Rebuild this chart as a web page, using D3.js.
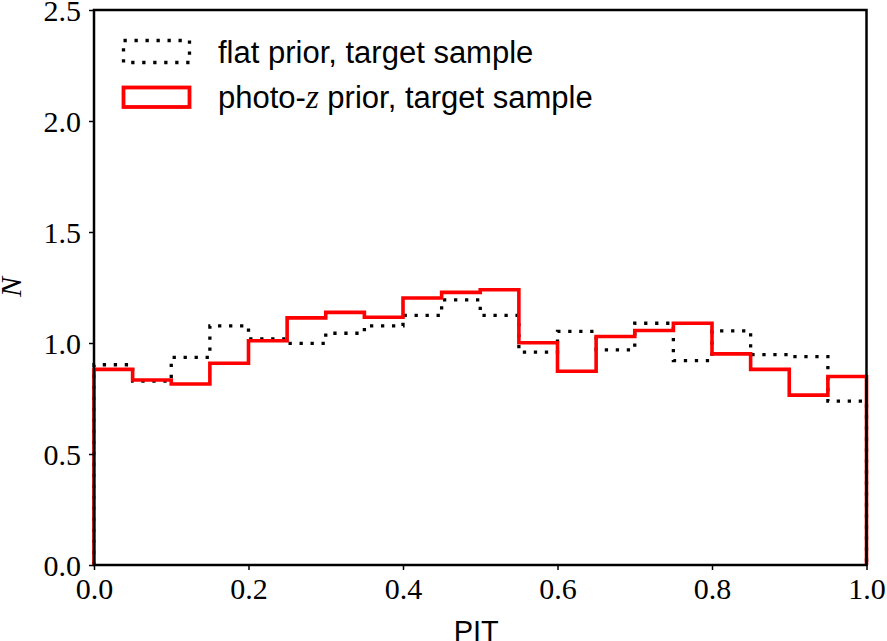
<!DOCTYPE html>
<html>
<head>
<meta charset="utf-8">
<script src="https://cdn.jsdelivr.net/npm/d3@7"></script>
<style>
  body { margin: 0; background: #fff; }
  svg { display: block; }
</style>
</head>
<body>
<div id="chart"></div>
<script>
// PIT histogram, 20 bins of width 0.05
var binEdges = [0.00, 0.05, 0.10, 0.15, 0.20, 0.25, 0.30, 0.35, 0.40, 0.45,
                0.50, 0.55, 0.60, 0.65, 0.70, 0.75, 0.80, 0.85, 0.90, 0.95, 1.00];
var flatPrior = [0.902, 0.828, 0.935, 1.077, 1.019, 0.998, 1.044, 1.077, 1.124, 1.194,
                 1.124, 0.959, 1.052, 0.969, 1.089, 0.921, 1.055, 0.948, 0.939, 0.738];
var photozPrior = [0.881, 0.833, 0.815, 0.909, 1.010, 1.113, 1.138, 1.116, 1.203, 1.228,
                   1.240, 1.001, 0.873, 1.029, 1.056, 1.089, 0.951, 0.881, 0.765, 0.849];
var xTicks = [0, 0.2, 0.4, 0.6, 0.8, 1.0];
var yTicks = [0, 0.5, 1.0, 1.5, 2.0, 2.5];
var legendLabels = ['flat prior, target sample', 'photo-', 'z', ' prior, target sample'];

var W = 887, H = 641;
var margin = {left: 94, right: 20.5, top: 10, bottom: 76};
var serif = '"Liberation Serif", "DejaVu Serif", serif';
var sans = '"Liberation Sans", Arial, sans-serif';

var svg = d3.select('#chart')
            .append('svg')
            .attr('width', W)
            .attr('height', H);

var x = d3.scaleLinear().domain([0, 1]).range([margin.left, W - margin.right]);
var y = d3.scaleLinear().domain([0, 2.5]).range([H - margin.bottom, margin.top]);

function stepPoints(vals) {
  var pts = [[0, 0]];
  vals.forEach(function(v, i) { pts.push([binEdges[i], v]); });
  pts.push([1, vals[vals.length - 1]]);
  pts.push([1, 0]);
  return pts;
}

var line = d3.line()
  .x(function(d) { return x(d[0]); })
  .y(function(d) { return y(d[1]); })
  .curve(d3.curveStepAfter);

svg.append('path')
  .attr('d', line(stepPoints(flatPrior)))
  .attr('fill', 'none')
  .attr('stroke', '#000')
  .attr('stroke-width', 3.3)
  .attr('stroke-dasharray', '3.3,7.7');

svg.append('path')
  .attr('d', line(stepPoints(photozPrior)))
  .attr('fill', 'none')
  .attr('stroke', '#ff0000')
  .attr('stroke-width', 3.6);

// axes
var xAxis = d3.axisBottom(x).tickValues(xTicks).tickSize(5).tickPadding(6)
  .tickFormat(d3.format('.1f'));
var yAxis = d3.axisLeft(y).tickValues(yTicks).tickSize(5).tickPadding(8)
  .tickFormat(d3.format('.1f'));

var gx = svg.append('g')
  .attr('transform', 'translate(0,' + (H - margin.bottom) + ')')
  .call(xAxis);
var gy = svg.append('g')
  .attr('transform', 'translate(' + margin.left + ',0)')
  .call(yAxis);

[gx, gy].forEach(function(g) {
  g.select('.domain').remove();
  g.selectAll('.tick line').attr('stroke', '#000').attr('stroke-width', 1.5);
  g.selectAll('.tick text')
    .attr('font-family', serif)
    .attr('font-size', '30px')
    .attr('fill', '#000');
});
gx.selectAll('.tick text').attr('dy', '0.78em');
gy.selectAll('.tick text').attr('dy', '0.34em');

// frame
svg.append('rect')
  .attr('x', x(0))
  .attr('y', y(2.5))
  .attr('width', x(1) - x(0))
  .attr('height', y(0) - y(2.5))
  .attr('fill', 'none')
  .attr('stroke', '#000')
  .attr('stroke-width', 2.5);

// axis labels
svg.append('text')
  .attr('x', (x(0) + x(1)) / 2 - 4)
  .attr('y', 641)
  .attr('text-anchor', 'middle')
  .attr('font-family', sans)
  .attr('font-size', '29px')
  .text('PIT');

svg.append('text')
  .attr('transform', 'translate(21,287) rotate(-90)')
  .attr('text-anchor', 'middle')
  .attr('font-family', serif)
  .attr('font-style', 'italic')
  .attr('font-size', '30px')
  .text('N');

// legend
var lg = svg.append('g');
lg.append('rect')
  .attr('x', 123.5).attr('y', 40.5).attr('width', 66).attr('height', 22)
  .attr('fill', 'none').attr('stroke', '#000')
  .attr('stroke-width', 3.3).attr('stroke-dasharray', '3.3,7.7');
lg.append('rect')
  .attr('x', 123.5).attr('y', 87.5).attr('width', 66).attr('height', 19.5)
  .attr('fill', 'none').attr('stroke', '#ff0000').attr('stroke-width', 3.8);

lg.append('text')
  .attr('x', 218).attr('y', 63)
  .attr('font-family', sans).attr('font-size', '31px')
  .text(legendLabels[0]);
var t2 = lg.append('text')
  .attr('x', 218).attr('y', 108)
  .attr('font-family', sans).attr('font-size', '31px');
t2.append('tspan').text(legendLabels[1]);
t2.append('tspan').attr('font-family', serif).attr('font-style', 'italic')
  .attr('font-size', '33px').text(legendLabels[2]);
t2.append('tspan').text(legendLabels[3]);
</script>
</body>
</html>
